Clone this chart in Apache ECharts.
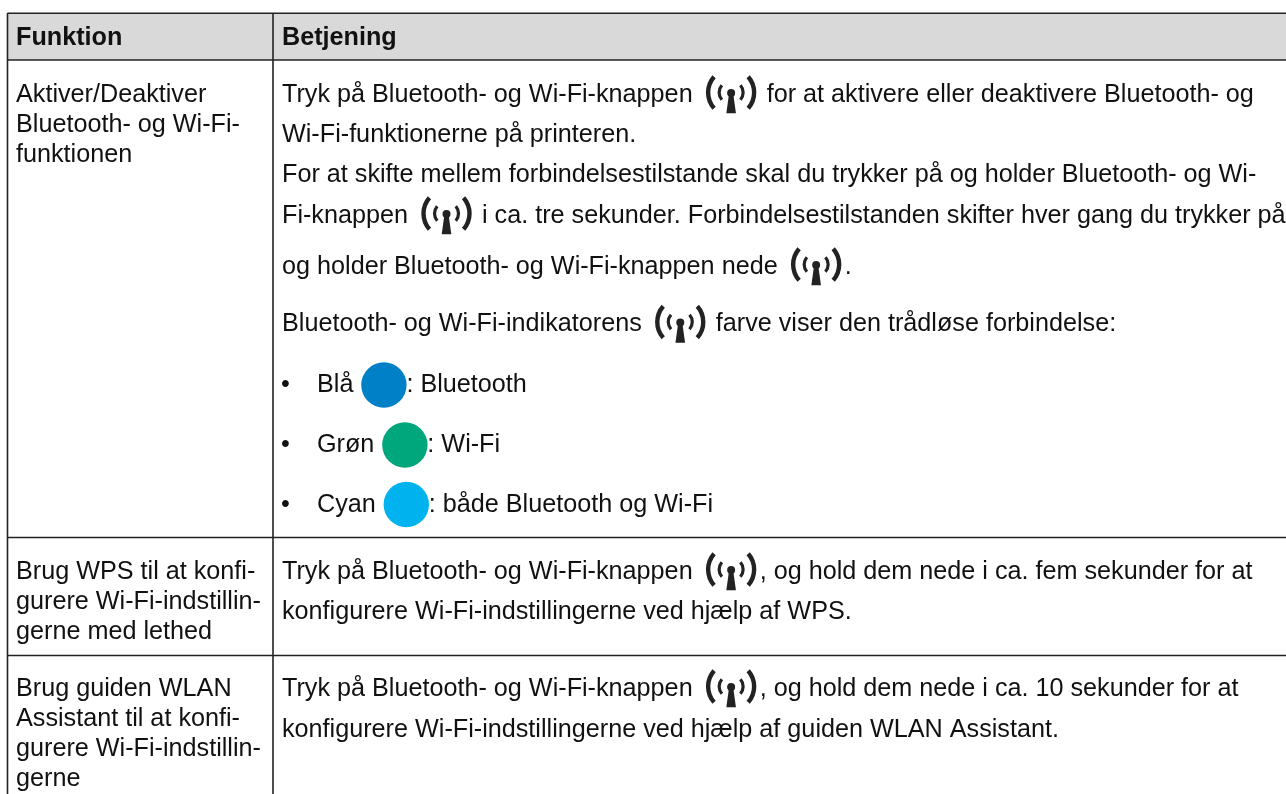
<!DOCTYPE html>
<html>
<head>
<meta charset="utf-8">
<style>html,body{margin:0;padding:0;background:#fff}#c{width:1286px;height:794px}</style>
<script src="https://cdn.jsdelivr.net/npm/echarts@6/dist/echarts.min.js"></script>
</head>
<body>
<div id="c"></div>
<script>
var headers = ['Funktion', 'Betjening']
var funktioner = [
  'Aktiver/Deaktiver', 'Bluetooth- og Wi-Fi-', 'funktionen',
  'Brug WPS til at konfi-', 'gurere Wi-Fi-indstillin-', 'gerne med lethed',
  'Brug guiden WLAN', 'Assistant til at konfi-', 'gurere Wi-Fi-indstillin-', 'gerne'
]
// ~ marks the place of the button icon
var betjening = [
  'Tryk på Bluetooth- og Wi-Fi-knappen ~ for at aktivere eller deaktivere Bluetooth- og',
  'Wi-Fi-funktionerne på printeren.',
  'For at skifte mellem forbindelsestilstande skal du trykker på og holder Bluetooth- og Wi-',
  'Fi-knappen ~ i ca. tre sekunder. Forbindelsestilstanden skifter hver gang du trykker på',
  'og holder Bluetooth- og Wi-Fi-knappen nede ~.',
  'Bluetooth- og Wi-Fi-indikatorens ~ farve viser den trådløse forbindelse:',
  'Tryk på Bluetooth- og Wi-Fi-knappen ~, og hold dem nede i ca. fem sekunder for at',
  'konfigurere Wi-Fi-indstillingerne ved hjælp af WPS.',
  'Tryk på Bluetooth- og Wi-Fi-knappen ~, og hold dem nede i ca. 10 sekunder for at',
  'konfigurere Wi-Fi-indstillingerne ved hjælp af guiden WLAN Assistant.'
]
var farver = ['Blå ', 'Grøn ', 'Cyan ']
var forklaring = [': Bluetooth', ': Wi-Fi', ': både Bluetooth og Wi-Fi']
var farvekoder = ['#0080c6', '#00a77d', '#00b3ef']

var font = '25.2px "Liberation Sans"'
var ink = '#111'
var colX = 273, leftX = 7.5
var funkY = [92.5, 122.5, 153, 569.5, 599.5, 629.5, 686.5, 716.5, 746.5, 776.5]
var betY = [92.5, 132.5, 172.5, 213.5, 264.5, 322, 569.5, 609.5, 686.5, 727.5]
var listY = [383, 443, 502.5]
var textShift = 2.5 // 'middle' sits higher than the line centre

var els = []
var measure = document.createElement('canvas').getContext('2d')
measure.font = font

function text(s, x, y, bold) {
  els.push({ type: 'text', x: x, y: y + textShift, silent: true, style: {
    text: s, fill: ink, font: bold ? 'bold ' + font : font, textVerticalAlign: 'middle'
  }})
}
function line(x1, y1, x2, y2) {
  els.push({ type: 'line', shape: { x1: x1, y1: y1, x2: x2, y2: y2 }, style: { stroke: '#222', lineWidth: 1.6 }})
}
function bow(cx, cy, off, r, half, w, left) {
  var c = left ? cx - off : cx + off
  var mid = left ? Math.PI : 0
  els.push({ type: 'arc', shape: { cx: c, cy: cy, r: r, startAngle: mid - half, endAngle: mid + half }, style: { stroke: '#222', fill: 'none', lineWidth: w, lineCap: 'butt' }})
}
function icon(x, y) {
  // x is the left edge of the icon, y the line centre
  var cx = x + 25.5
  bow(cx, y, -1, 24, 0.72, 4.4, false)
  bow(cx, y, -1, 24, 0.72, 4.4, true)
  bow(cx, y, 1, 11, 0.72, 3.2, false)
  bow(cx, y, 1, 11, 0.72, 3.2, true)
  els.push({ type: 'circle', shape: { cx: cx, cy: y + 0.5, r: 4 }, style: { fill: '#222' }})
  els.push({ type: 'polygon', shape: { points: [[cx - 2.2, y + 2], [cx + 2.2, y + 2], [cx + 4.8, y + 20.7], [cx - 4.8, y + 20.7]] }, style: { fill: '#222' }})
}
function richLine(s, x, y) {
  var parts = s.split('~')
  text(parts[0], x, y)
  if (parts.length > 1) {
    var w = measure.measureText(parts[0]).width
    icon(x + w + 6, y)
    text(parts[1], x + w + 60, y)
  }
}

// table frame
els.push({ type: 'rect', shape: { x: leftX, y: 13, width: 1279, height: 47 }, style: { fill: '#d9d9d9' }})
line(leftX, 13.3, 1286, 13.3)
line(leftX, 60, 1286, 60)
line(leftX, 537.5, 1286, 537.5)
line(leftX, 655.5, 1286, 655.5)
line(leftX, 13, leftX, 794)
line(colX, 13, colX, 794)

text(headers[0], 16, 35.5, true)
text(headers[1], 282, 35.5, true)

funktioner.forEach(function (s, i) { text(s, 16, funkY[i]) })
betjening.forEach(function (s, i) { richLine(s, 282, betY[i]) })

// colour list
farver.forEach(function (s, i) {
  var y = listY[i], x = 317
  text('•', 281, y)
  text(s, x, y)
  var w = measure.measureText(s).width
  els.push({ type: 'circle', shape: { cx: x + w + 23.5, cy: y + 2, r: 22.7 }, style: { fill: farvekoder[i] }})
  text(forklaring[i], x + w + 46, y)
})

var chart = echarts.init(document.getElementById('c'))
chart.setOption({ animation: false, graphic: { elements: els } })
</script>
</body>
</html>
